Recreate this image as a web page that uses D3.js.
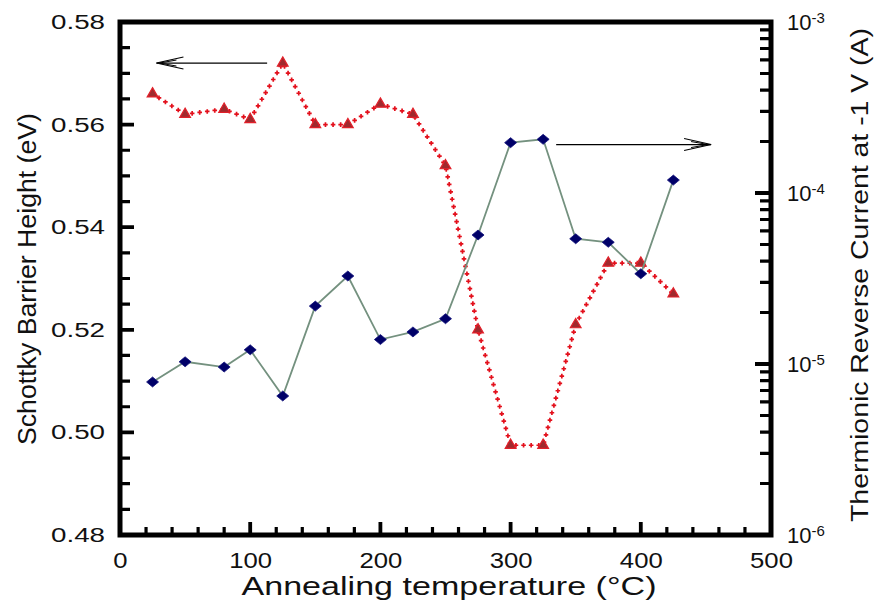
<!DOCTYPE html>
<html>
<head>
<meta charset="utf-8">
<script src="https://cdn.jsdelivr.net/npm/d3@7"></script>
<style>
	body { margin: 0; background: #fff; }
	text { font-family: "Liberation Sans", Arial, sans-serif; fill: #111; }
</style>
</head>
<body>
<div class="chart"></div>
<script>
const WIDTH = 878;
const HEIGHT = 603;
const LEFT = 120, RIGHT = 771, TOP = 22, BOTTOM = 535;
const AXIS_W = 5;

// annealing temperatures (°C)
var temperatures = [25, 50, 80, 100, 125, 150, 175, 200, 225, 250, 275, 300, 325, 350, 375, 400, 425];
// Schottky barrier height (eV), left axis
var barrierHeight = [0.566, 0.562, 0.563, 0.561, 0.572, 0.560, 0.560, 0.564, 0.562, 0.552, 0.520, 0.4975, 0.4975, 0.521, 0.533, 0.533, 0.527];
// thermionic reverse current at -1 V (A), right axis
var reverseCurrent = [7.85e-6, 1.03e-5, 9.6e-6, 1.21e-5, 6.5e-6, 2.18e-5, 3.27e-5, 1.39e-5, 1.54e-5, 1.84e-5, 5.68e-5, 1.97e-4, 2.06e-4, 5.40e-5, 5.15e-5, 3.37e-5, 1.19e-4];

var xTicks = [0, 100, 200, 300, 400, 500];
var leftTicks = [0.48, 0.50, 0.52, 0.54, 0.56, 0.58];
var rightTicks = [1e-6, 1e-5, 1e-4, 1e-3];

// annotation arrows: [x from, x to, value]
var leftArrow = [113, 28, 0.572];
var rightArrow = [335, 454, 1.92e-4];

var svg = d3.select('.chart').append('svg')
	.attr('width', WIDTH)
	.attr('height', HEIGHT);

var x = d3.scaleLinear().domain([0, 500]).range([LEFT, RIGHT]);
var yL = d3.scaleLinear().domain([0.48, 0.58]).range([BOTTOM, TOP]);
var yR = d3.scaleLog().domain([1e-6, 1e-3]).range([BOTTOM, TOP]);

var translate = function(a, b){
	return "translate(" + a + "," + b + ")";
};

// tick labels through the axis generators
var xAxis = svg.append('g').attr('transform', translate(0, BOTTOM))
	.call(d3.axisBottom(x).tickValues(xTicks).tickSize(0).tickPadding(17));
xAxis.selectAll('text')
	.style('font-size', '22px')
	.attr('textLength', function(d){ return String(d).length * 14.3; })
	.attr('lengthAdjust', 'spacingAndGlyphs');

var lAxis = svg.append('g').attr('transform', translate(LEFT, 0))
	.call(d3.axisLeft(yL).tickValues(leftTicks).tickSize(0).tickPadding(15)
		.tickFormat(d3.format('.2f')));
lAxis.selectAll('text')
	.style('font-size', '20px')
	.attr('textLength', 54)
	.attr('lengthAdjust', 'spacingAndGlyphs');

var rAxis = svg.append('g').attr('transform', translate(RIGHT, 0))
	.call(d3.axisRight(yR).tickValues(rightTicks).tickSize(0).tickPadding(16)
		.tickFormat(function(){ return ''; }));
rAxis.selectAll('text')
	.style('font-size', '22px')
	.each(function(d){
		var t = d3.select(this);
		t.append('tspan').text('10');
		t.append('tspan').attr('dy', '-0.45em').style('font-size', '15px')
			.text('-' + Math.round(-Math.log10(d)));
	});

[xAxis, lAxis, rAxis].forEach(function(a){
	a.select('.domain').remove();
	a.selectAll('.tick line').remove();
});

// axis titles
svg.append('text')
	.attr('x', 449).attr('y', 595)
	.attr('text-anchor', 'middle')
	.style('font-size', '25px')
	.attr('textLength', 415).attr('lengthAdjust', 'spacingAndGlyphs')
	.text('Annealing temperature (°C)');

svg.append('text')
	.attr('transform', translate(36, 279) + ' rotate(-90)')
	.attr('text-anchor', 'middle')
	.style('font-size', '26px')
	.attr('textLength', 332).attr('lengthAdjust', 'spacingAndGlyphs')
	.text('Schottky Barrier Height (eV)');

svg.append('text')
	.attr('transform', translate(868, 275) + ' rotate(-90)')
	.attr('text-anchor', 'middle')
	.style('font-size', '23px')
	.attr('textLength', 494).attr('lengthAdjust', 'spacingAndGlyphs')
	.text('Thermionic Reverse Current at -1 V (A)');

// red series: dotted line of small crosses
var redLine = d3.line()
	.x(function(d, i){ return x(temperatures[i]); })
	.y(function(d){ return yL(d); });

var redPath = svg.append('path')
	.attr('d', redLine(barrierHeight))
	.attr('fill', 'none').attr('stroke', 'none');

var node = redPath.node();
var total = node.getTotalLength();
var crosses = d3.range(0, total, 7.6).map(function(l){ return node.getPointAtLength(l); });

svg.append('g').selectAll('path')
	.data(crosses)
	.enter().append('path')
	.attr('d', function(p){
		return 'M' + (p.x - 2.3) + ',' + p.y + 'H' + (p.x + 2.3) +
			'M' + p.x + ',' + (p.y - 2.3) + 'V' + (p.y + 2.3);
	})
	.attr('stroke', '#e3101c').attr('stroke-width', 1.7);

svg.append('g').selectAll('path')
	.data(barrierHeight)
	.enter().append('path')
	.attr('d', d3.symbol().type(d3.symbolTriangle).size(50))
	.attr('transform', function(d, i){ return translate(x(temperatures[i]), yL(d)); })
	.attr('fill', '#a02a2e').attr('stroke', '#e2202a').attr('stroke-width', 1.2);

// blue series
var blueLine = d3.line()
	.x(function(d, i){ return x(temperatures[i]); })
	.y(function(d){ return yR(d); });

svg.append('path')
	.attr('d', blueLine(reverseCurrent))
	.attr('fill', 'none').attr('stroke', '#74917f').attr('stroke-width', 1.8);

svg.append('g').selectAll('path')
	.data(reverseCurrent)
	.enter().append('path')
	.attr('d', 'M0,-5L6,0L0,5L-6,0Z')
	.attr('transform', function(d, i){ return translate(x(temperatures[i]), yR(d)); })
	.attr('fill', '#000068').attr('stroke', '#10107a').attr('stroke-width', 0.8);

// arrows
var drawArrow = function(x1, x2, yy){
	var dir = x2 > x1 ? -1 : 1;
	var g = svg.append('g').attr('stroke', '#000').attr('fill', 'none');
	g.append('line').attr('x1', x1).attr('x2', x2).attr('y1', yy).attr('y2', yy).attr('stroke-width', 1.3);
	g.append('path')
		.attr('d', 'M' + (x2 + dir * 27) + ',' + (yy - 6) + 'L' + x2 + ',' + yy + 'L' + (x2 + dir * 27) + ',' + (yy + 6))
		.attr('stroke-width', 1.1);
	g.append('path')
		.attr('d', 'M' + (x2 + dir * 20) + ',' + (yy - 3) + 'L' + (x2 + dir * 3) + ',' + yy + 'L' + (x2 + dir * 20) + ',' + (yy + 3))
		.attr('stroke-width', 1);
};
drawArrow(x(leftArrow[0]), x(leftArrow[1]), yL(leftArrow[2]));
drawArrow(x(rightArrow[0]), x(rightArrow[1]), yR(rightArrow[2]));

// minor ticks
var xMinor = d3.range(0, 501, 20).filter(function(d){ return d % 100 !== 0; });
var lMinor = d3.range(0, 21).map(function(i){ return 0.48 + i * 0.005; })
	.filter(function(d, i){ return i % 4 !== 0; });
var rMinor = yR.ticks().filter(function(d){
	var e = Math.log10(d);
	return Math.abs(e - Math.round(e)) > 1e-6;
});

// frame and ticks on top, ticks pointing into the plot
var frame = svg.append('g').attr('stroke', '#000').attr('fill', 'none');
frame.append('rect')
	.attr('x', LEFT).attr('y', TOP)
	.attr('width', RIGHT - LEFT).attr('height', BOTTOM - TOP)
	.attr('stroke-width', AXIS_W);

var tickPath = function(list){
	return list.join('');
};
var vTicks = function(vals, len, w){
	frame.append('path').attr('stroke-width', w)
		.attr('d', tickPath(vals.map(function(d){ return 'M' + x(d) + ',' + BOTTOM + 'V' + (BOTTOM - len); })));
};
var lTicks = function(vals, len, w){
	frame.append('path').attr('stroke-width', w)
		.attr('d', tickPath(vals.map(function(d){ return 'M' + LEFT + ',' + yL(d) + 'H' + (LEFT + len); })));
};
var rTicks = function(vals, len, w){
	frame.append('path').attr('stroke-width', w)
		.attr('d', tickPath(vals.map(function(d){ return 'M' + RIGHT + ',' + yR(d) + 'H' + (RIGHT - len); })));
};
vTicks(xMinor, 8, 3.2);
vTicks(xTicks, 13, 3.8);
lTicks(lMinor, 10, 3.2);
lTicks(leftTicks, 14, 3.8);
rTicks(rMinor, 11, 3.2);
rTicks(rightTicks, 16, 3.8);
</script>
</body>
</html>
